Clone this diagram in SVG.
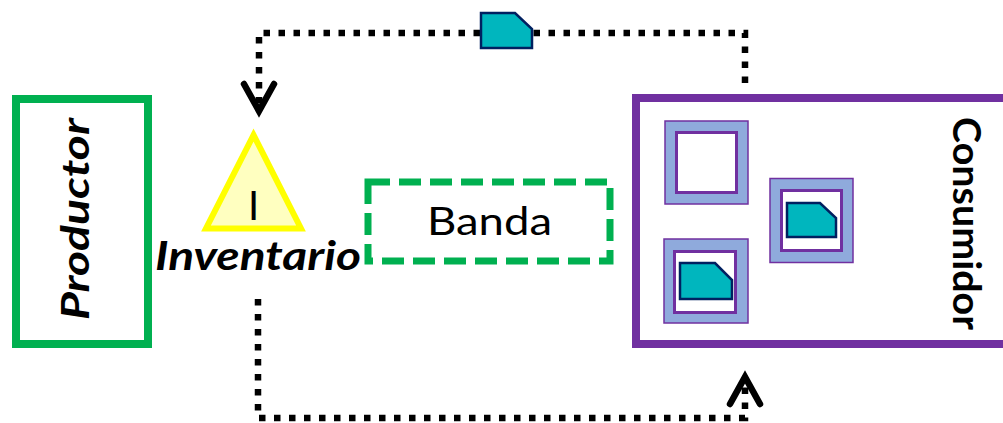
<svg xmlns="http://www.w3.org/2000/svg" width="1003" height="423" viewBox="0 0 1003 423">
  <style>
    .lbl { font-family: Lato, "Liberation Sans", sans-serif; fill: #000; }
    .flow { fill: none; stroke: #000; stroke-width: 6.5; stroke-dasharray: 6.5 8.5; }
    .card { fill: #00B6BE; stroke: #002060; stroke-width: 2.5; stroke-linejoin: miter; }
    .slot-out { fill: #8FAADC; stroke: #7030A0; stroke-width: 1.5; }
    .slot-in { fill: #fff; stroke: #7030A0; stroke-width: 3; }
  </style>
  <defs>
    <marker id="chev" markerUnits="userSpaceOnUse" viewBox="-40 -20 50 40" refX="0" refY="0" markerWidth="50" markerHeight="40" orient="auto" overflow="visible">
      <path d="M-27,-15 L0,0 L-27,15" fill="none" stroke="#000" stroke-width="6.5" stroke-linejoin="miter" stroke-linecap="round"/>
    </marker>
  </defs>
  <rect width="1003" height="423" fill="#fff"/>

  <g id="connectors">
    <path class="flow" d="M745,83 V33 H259 V111" marker-end="url(#chev)"/>
    <path class="flow" d="M258,299 V418 H745 V377" marker-end="url(#chev)"/>
  </g>

  <g id="flow-card">
    <path class="card" d="M481,13 H515 L532,29 V48 H481 Z"/>
  </g>

  <g id="productor">
    <rect x="16" y="99" width="132" height="245" fill="#fff" stroke="#00B050" stroke-width="8"/>
    <text class="lbl" transform="translate(89,320) rotate(-90)" font-size="39" font-weight="bold" font-style="italic" textLength="202" lengthAdjust="spacingAndGlyphs">Productor</text>
  </g>

  <g id="inventario">
    <polygon points="253.5,135 206,228.5 301,228.5" fill="#FFFFC0" stroke="#FFFF00" stroke-width="6"/>
    <text class="lbl" x="253.5" y="220" font-size="40" text-anchor="middle">I</text>
    <text class="lbl" x="155" y="270" font-size="40" font-weight="bold" font-style="italic" textLength="206" lengthAdjust="spacingAndGlyphs">Inventario</text>
  </g>

  <g id="banda">
    <rect x="368" y="182" width="242" height="79" fill="#fff" stroke="#00B050" stroke-width="7" stroke-dasharray="22 9"/>
    <text class="lbl" x="427" y="235" font-size="39" textLength="125" lengthAdjust="spacingAndGlyphs">Banda</text>
  </g>

  <g id="consumidor">
    <rect x="636" y="98" width="400" height="246" fill="#fff" stroke="#7030A0" stroke-width="8"/>
    <text class="lbl" transform="translate(953,117) rotate(90)" font-size="39" font-weight="bold" textLength="213" lengthAdjust="spacingAndGlyphs">Consumidor</text>
    <g id="slot-1">
      <rect class="slot-out" x="665" y="121" width="83" height="83"/>
      <rect class="slot-in" x="676.5" y="132.5" width="60" height="60"/>
    </g>
    <g id="slot-2">
      <rect class="slot-out" x="770" y="178.5" width="83" height="84"/>
      <rect class="slot-in" x="781.5" y="190.5" width="60" height="60"/>
      <path class="card" d="M787,203 H820 L836,218 V237 H787 Z"/>
    </g>
    <g id="slot-3">
      <rect class="slot-out" x="664" y="239" width="84" height="84"/>
      <rect class="slot-in" x="674.5" y="251.5" width="61" height="61"/>
      <path class="card" d="M680,263 H715 L732,280 V299 H680 Z"/>
    </g>
  </g>
</svg>
